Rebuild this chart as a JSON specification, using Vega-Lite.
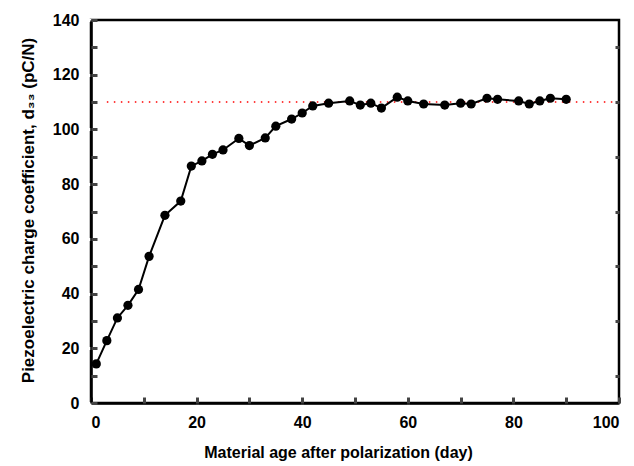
{
  "$schema": "https://vega.github.io/schema/vega-lite/v6.json",
  "width": 528,
  "height": 383,
  "autosize": "none",
  "padding": {"left": 91, "top": 20, "right": 15, "bottom": 63},
  "background": "white",
  "config": {
    "view": {"stroke": "black", "strokeWidth": 2.5},
    "font": "Liberation Sans",
    "axis": {
      "domainColor": "black", "domainWidth": 2.5,
      "labelFont": "Liberation Sans", "labelFontWeight": "bold", "labelFontSize": 16, "labelColor": "black",
      "titleFont": "Liberation Sans", "titleFontWeight": "bold", "titleFontSize": 16, "titleColor": "black",
      "grid": false
    }
  },
  "datasets": {
    "main": [
      {"day": 1, "d33": 14.3}, {"day": 3, "d33": 22.8}, {"day": 5, "d33": 31.1}, {"day": 7, "d33": 35.7},
      {"day": 9, "d33": 41.5}, {"day": 11, "d33": 53.6}, {"day": 14, "d33": 68.6}, {"day": 17, "d33": 73.8},
      {"day": 19, "d33": 86.6}, {"day": 21, "d33": 88.5}, {"day": 23, "d33": 90.9}, {"day": 25, "d33": 92.5},
      {"day": 28, "d33": 96.7}, {"day": 30, "d33": 94.1}, {"day": 33, "d33": 96.9}, {"day": 35, "d33": 101.2},
      {"day": 38, "d33": 103.8}, {"day": 40, "d33": 106}, {"day": 42, "d33": 108.6}, {"day": 45, "d33": 109.6},
      {"day": 49, "d33": 110.4}, {"day": 51, "d33": 108.9}, {"day": 53, "d33": 109.6}, {"day": 55, "d33": 107.8},
      {"day": 58, "d33": 111.8}, {"day": 60, "d33": 110.4}, {"day": 63, "d33": 109.3}, {"day": 67, "d33": 108.9},
      {"day": 70, "d33": 109.6}, {"day": 72, "d33": 109.3}, {"day": 75, "d33": 111.4}, {"day": 77, "d33": 111},
      {"day": 81, "d33": 110.4}, {"day": 83, "d33": 109.3}, {"day": 85, "d33": 110.4}, {"day": 87, "d33": 111.4},
      {"day": 90, "d33": 111}
    ],
    "ref": [{"day": 3, "d33": 110}, {"day": 99.5, "d33": 110}]
  },
  "resolve": {"axis": {"x": "independent", "y": "independent"}},
  "layer": [
    {
      "data": {"name": "ref"},
      "mark": {"type": "line", "color": "red", "strokeWidth": 1.5, "strokeDash": [1.5, 5.5]},
      "encoding": {
        "x": {
          "field": "day", "type": "quantitative",
          "scale": {"domain": [0, 100], "nice": false, "zero": false},
          "axis": {
            "orient": "bottom",
            "values": [0, 20, 40, 60, 80, 100], "tickColor": "white", "tickSize": 8, "tickWidth": 3, "labelPadding": 3,
            "title": "Material age after polarization (day)", "titlePadding": 14, "titleX": 247
          }
        },
        "y": {
          "field": "d33", "type": "quantitative",
          "scale": {"domain": [0, 140], "nice": false},
          "axis": {
            "orient": "left",
            "values": [0, 20, 40, 60, 80, 100, 120, 140], "tickColor": "white", "tickSize": 8, "tickWidth": 3, "labelPadding": 4,
            "title": "Piezoelectric charge coefficient, d₃₃  (pC/N)", "titleFontSize": 17, "titlePadding": 15, "titleY": 190
          }
        }
      }
    },
    {
      "data": {"name": "main"},
      "mark": {"type": "line", "color": "black", "strokeWidth": 2},
      "encoding": {
        "x": {
          "field": "day", "type": "quantitative",
          "axis": {"orient": "bottom", "values": [0, 10, 20, 30, 40, 50, 60, 70, 80, 90, 100], "offset": -6, "tickSize": 6, "tickColor": "#444444", "tickWidth": 3, "domain": false, "labels": false, "title": null}
        },
        "y": {
          "field": "d33", "type": "quantitative",
          "axis": {"orient": "left", "values": [0, 10, 20, 30, 40, 50, 60, 70, 80, 90, 100, 110, 120, 130, 140], "offset": -6, "tickSize": 6, "tickColor": "#444444", "tickWidth": 3, "domain": false, "labels": false, "title": null}
        }
      }
    },
    {
      "data": {"name": "main"},
      "mark": {"type": "point", "filled": true, "color": "black", "size": 85, "opacity": 1},
      "encoding": {
        "x": {"field": "day", "type": "quantitative", "axis": null},
        "y": {
          "field": "d33", "type": "quantitative",
          "axis": {"orient": "right", "values": [10, 30, 50, 70, 90, 110, 130], "offset": -4, "tickSize": 4, "tickColor": "#444444", "tickWidth": 3, "domain": false, "labels": false, "title": null}
        }
      }
    }
  ]
}
